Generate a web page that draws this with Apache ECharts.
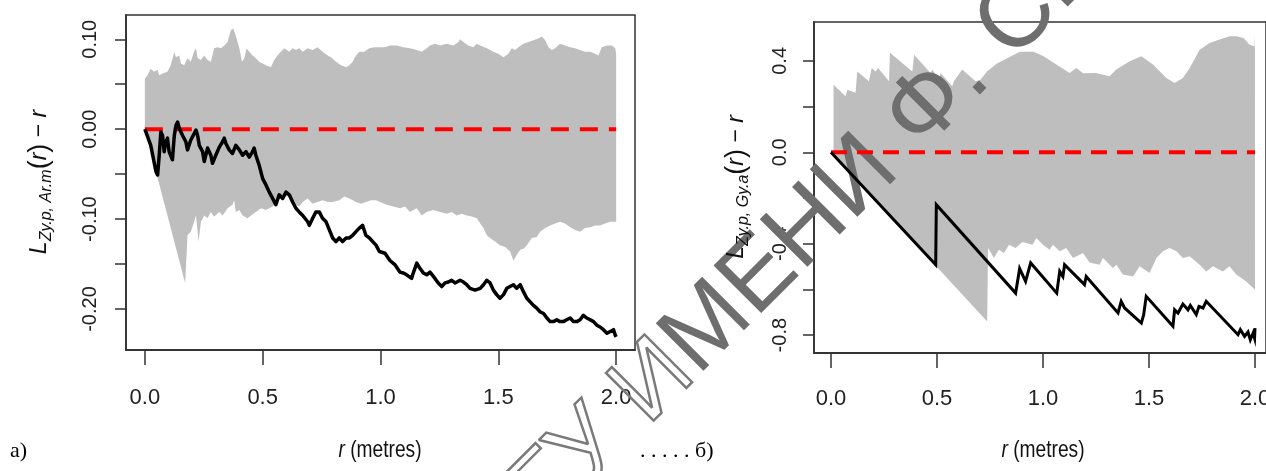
<!DOCTYPE html>
<html><head><meta charset="utf-8">
<script src="https://cdn.jsdelivr.net/npm/echarts@6/dist/echarts.min.js"></script>
<style>html,body{margin:0;padding:0;background:#fff}#c{width:1266px;height:471px}</style>
</head><body><div id="c"></div>
<script>
// ---------- panel a) data ----------
const envAUpper = [[0,0.056],[0.011,0.060],[0.025,0.067],[0.040,0.064],[0.054,0.066],[0.061,0.060],[0.075,0.062],[0.096,0.064],[0.110,0.071],[0.125,0.086],[0.132,0.080],[0.146,0.082],[0.153,0.073],[0.167,0.071],[0.181,0.079],[0.195,0.075],[0.209,0.086],[0.217,0.090],[0.224,0.079],[0.238,0.077],[0.252,0.082],[0.266,0.077],[0.280,0.075],[0.294,0.090],[0.309,0.091],[0.323,0.090],[0.337,0.093],[0.351,0.097],[0.365,0.110],[0.375,0.112],[0.386,0.104],[0.401,0.090],[0.412,0.075],[0.422,0.079],[0.432,0.090],[0.443,0.086],[0.457,0.082],[0.471,0.079],[0.485,0.075],[0.500,0.073],[0.514,0.071],[0.535,0.069],[0.549,0.077],[0.563,0.082],[0.577,0.086],[0.592,0.090],[0.613,0.086],[0.627,0.090],[0.641,0.088],[0.655,0.090],[0.670,0.086],[0.691,0.090],[0.712,0.088],[0.733,0.091],[0.754,0.086],[0.776,0.082],[0.790,0.080],[0.811,0.075],[0.832,0.071],[0.854,0.069],[0.868,0.071],[0.882,0.075],[0.896,0.082],[0.910,0.086],[0.931,0.086],[0.953,0.090],[0.974,0.091],[0.995,0.091],[1.019,0.091],[1.040,0.093],[1.069,0.093],[1.097,0.091],[1.125,0.090],[1.154,0.088],[1.175,0.086],[1.196,0.090],[1.210,0.093],[1.231,0.095],[1.253,0.093],[1.281,0.095],[1.309,0.093],[1.331,0.097],[1.338,0.100],[1.352,0.097],[1.373,0.093],[1.394,0.091],[1.409,0.095],[1.423,0.093],[1.451,0.090],[1.479,0.086],[1.500,0.084],[1.522,0.080],[1.543,0.084],[1.557,0.090],[1.571,0.088],[1.585,0.091],[1.607,0.095],[1.628,0.097],[1.649,0.099],[1.670,0.101],[1.685,0.103],[1.699,0.099],[1.713,0.091],[1.727,0.088],[1.741,0.090],[1.762,0.095],[1.783,0.093],[1.805,0.091],[1.826,0.090],[1.847,0.088],[1.868,0.086],[1.890,0.086],[1.911,0.084],[1.925,0.082],[1.939,0.091],[1.961,0.093],[1.982,0.093],[1.996,0.090],[2.0,0.084]];
const envALower = [[0,0],[0.171,-0.171],[0.177,-0.140],[0.181,-0.118],[0.195,-0.114],[0.209,-0.103],[0.217,-0.096],[0.228,-0.125],[0.238,-0.103],[0.252,-0.096],[0.266,-0.099],[0.280,-0.092],[0.294,-0.097],[0.316,-0.092],[0.330,-0.096],[0.351,-0.088],[0.372,-0.084],[0.379,-0.079],[0.386,-0.092],[0.401,-0.090],[0.415,-0.096],[0.436,-0.099],[0.450,-0.096],[0.471,-0.092],[0.493,-0.088],[0.514,-0.090],[0.542,-0.086],[0.563,-0.081],[0.585,-0.073],[0.606,-0.075],[0.627,-0.081],[0.641,-0.084],[0.655,-0.086],[0.670,-0.081],[0.691,-0.077],[0.712,-0.083],[0.733,-0.081],[0.754,-0.079],[0.776,-0.081],[0.797,-0.081],[0.825,-0.079],[0.846,-0.075],[0.868,-0.077],[0.896,-0.081],[0.917,-0.083],[0.938,-0.081],[0.960,-0.079],[0.981,-0.079],[0.998,-0.081],[1.026,-0.084],[1.055,-0.086],[1.083,-0.088],[1.104,-0.086],[1.125,-0.092],[1.154,-0.088],[1.175,-0.096],[1.196,-0.092],[1.224,-0.090],[1.253,-0.092],[1.281,-0.094],[1.302,-0.092],[1.323,-0.096],[1.345,-0.094],[1.366,-0.096],[1.387,-0.097],[1.409,-0.099],[1.423,-0.105],[1.437,-0.110],[1.451,-0.118],[1.465,-0.121],[1.486,-0.125],[1.507,-0.129],[1.529,-0.131],[1.550,-0.136],[1.564,-0.146],[1.578,-0.140],[1.593,-0.134],[1.607,-0.133],[1.621,-0.129],[1.642,-0.121],[1.663,-0.120],[1.677,-0.114],[1.699,-0.110],[1.720,-0.107],[1.741,-0.105],[1.762,-0.103],[1.783,-0.105],[1.805,-0.109],[1.826,-0.112],[1.847,-0.114],[1.868,-0.110],[1.890,-0.109],[1.911,-0.107],[1.932,-0.107],[1.953,-0.105],[1.975,-0.103],[2.0,-0.103]];
const obsA = [[0,0],[0.025,-0.018],[0.047,-0.047],[0.054,-0.051],[0.061,-0.029],[0.068,-0.003],[0.075,-0.007],[0.082,-0.025],[0.089,-0.014],[0.096,-0.010],[0.103,-0.025],[0.117,-0.034],[0.125,-0.007],[0.132,0.004],[0.139,0.008],[0.146,0.001],[0.153,0.003],[0.160,-0.007],[0.174,-0.014],[0.181,-0.023],[0.195,-0.012],[0.202,-0.010],[0.217,-0.001],[0.224,-0.007],[0.231,-0.018],[0.245,-0.025],[0.252,-0.036],[0.266,-0.021],[0.280,-0.029],[0.287,-0.038],[0.301,-0.029],[0.316,-0.020],[0.330,-0.014],[0.337,-0.010],[0.344,-0.016],[0.358,-0.023],[0.372,-0.027],[0.386,-0.018],[0.401,-0.023],[0.415,-0.029],[0.429,-0.025],[0.443,-0.031],[0.457,-0.025],[0.464,-0.021],[0.471,-0.029],[0.485,-0.040],[0.500,-0.055],[0.514,-0.062],[0.528,-0.070],[0.542,-0.077],[0.556,-0.084],[0.570,-0.073],[0.585,-0.077],[0.599,-0.070],[0.613,-0.073],[0.627,-0.081],[0.641,-0.088],[0.655,-0.092],[0.670,-0.096],[0.691,-0.103],[0.698,-0.107],[0.712,-0.099],[0.726,-0.092],[0.740,-0.092],[0.754,-0.099],[0.769,-0.103],[0.783,-0.112],[0.797,-0.121],[0.811,-0.125],[0.825,-0.121],[0.839,-0.125],[0.854,-0.121],[0.868,-0.121],[0.882,-0.118],[0.896,-0.114],[0.910,-0.110],[0.924,-0.107],[0.938,-0.118],[0.953,-0.121],[0.967,-0.125],[0.981,-0.129],[0.995,-0.136],[1.019,-0.138],[1.040,-0.146],[1.062,-0.151],[1.083,-0.159],[1.097,-0.160],[1.111,-0.162],[1.132,-0.166],[1.139,-0.160],[1.154,-0.149],[1.168,-0.155],[1.182,-0.160],[1.196,-0.162],[1.210,-0.159],[1.217,-0.157],[1.231,-0.166],[1.245,-0.171],[1.260,-0.175],[1.274,-0.171],[1.288,-0.170],[1.302,-0.168],[1.316,-0.171],[1.338,-0.168],[1.352,-0.170],[1.366,-0.173],[1.380,-0.177],[1.401,-0.179],[1.423,-0.177],[1.437,-0.173],[1.451,-0.168],[1.465,-0.171],[1.479,-0.179],[1.493,-0.184],[1.507,-0.188],[1.522,-0.184],[1.536,-0.177],[1.550,-0.175],[1.564,-0.173],[1.578,-0.177],[1.593,-0.173],[1.607,-0.181],[1.621,-0.188],[1.635,-0.192],[1.649,-0.196],[1.663,-0.199],[1.677,-0.203],[1.692,-0.205],[1.706,-0.210],[1.720,-0.214],[1.734,-0.214],[1.748,-0.212],[1.762,-0.214],[1.776,-0.214],[1.790,-0.212],[1.805,-0.210],[1.819,-0.214],[1.833,-0.214],[1.847,-0.212],[1.861,-0.207],[1.875,-0.210],[1.890,-0.212],[1.904,-0.214],[1.918,-0.218],[1.932,-0.220],[1.946,-0.223],[1.961,-0.227],[1.975,-0.225],[1.989,-0.223],[1.996,-0.229],[2.0,-0.231]];

// ---------- panel б) data ----------
const envBUpper = [[0.012,0.296],[0.069,0.245],[0.077,0.274],[0.116,0.260],[0.124,0.354],[0.179,0.311],[0.192,0.369],[0.211,0.354],[0.222,0.369],[0.274,0.311],[0.278,0.435],[0.384,0.354],[0.392,0.427],[0.470,0.347],[0.478,0.362],[0.509,0.318],[0.517,0.347],[0.572,0.289],[0.580,0.311],[0.619,0.362],[0.682,0.311],[0.704,0.316],[0.736,0.353],[0.783,0.389],[0.861,0.426],[0.892,0.440],[0.955,0.440],[1.003,0.420],[1.063,0.384],[1.126,0.347],[1.157,0.369],[1.190,0.346],[1.250,0.347],[1.314,0.333],[1.346,0.362],[1.409,0.398],[1.464,0.420],[1.519,0.384],[1.582,0.325],[1.621,0.303],[1.660,0.325],[1.692,0.369],[1.739,0.449],[1.786,0.478],[1.833,0.493],[1.880,0.508],[1.912,0.508],[1.946,0.500],[1.975,0.471],[1.998,0.464],[2.0,0.515]];
const envBLower = [[0.012,-0.012],[0.737,-0.740],[0.741,-0.419],[0.769,-0.462],[0.792,-0.426],[0.816,-0.441],[0.840,-0.404],[0.871,-0.419],[0.903,-0.392],[0.950,-0.404],[0.969,-0.375],[1.0,-0.404],[1.031,-0.426],[1.047,-0.404],[1.079,-0.433],[1.110,-0.419],[1.142,-0.462],[1.189,-0.441],[1.220,-0.482],[1.267,-0.492],[1.283,-0.462],[1.330,-0.506],[1.346,-0.492],[1.377,-0.535],[1.425,-0.543],[1.456,-0.499],[1.503,-0.528],[1.535,-0.462],[1.566,-0.433],[1.597,-0.419],[1.629,-0.433],[1.660,-0.462],[1.692,-0.455],[1.739,-0.492],[1.770,-0.521],[1.802,-0.499],[1.849,-0.521],[1.880,-0.499],[1.912,-0.535],[1.959,-0.565],[2.0,-0.601]];
const obsB = [[0,0],[0.494,-0.492],[0.497,-0.229],[0.871,-0.616],[0.890,-0.509],[0.918,-0.565],[0.942,-0.484],[1.065,-0.616],[1.079,-0.521],[1.094,-0.543],[1.102,-0.492],[1.196,-0.579],[1.204,-0.543],[1.354,-0.703],[1.369,-0.652],[1.385,-0.681],[1.464,-0.747],[1.475,-0.710],[1.487,-0.630],[1.613,-0.761],[1.621,-0.689],[1.637,-0.703],[1.660,-0.664],[1.684,-0.689],[1.695,-0.670],[1.723,-0.710],[1.736,-0.674],[1.755,-0.681],[1.770,-0.652],[1.920,-0.798],[1.931,-0.776],[1.951,-0.805],[1.967,-0.786],[1.978,-0.820],[1.991,-0.791],[1.998,-0.813],[2.0,-0.769]];

const refLine = [[0,0],[2,0]];
const xTicks = [0,0.5,1,1.5,2];
const yTicksA = [-0.2,-0.15,-0.1,-0.05,0,0.05,0.1];
const yLabelsA = [-0.2,-0.1,0,0.1];
const yTicksB = [-0.8,-0.6,-0.4,-0.2,0,0.2,0.4];
const yLabelsB = [-0.8,-0.4,0,0.4];
const watermarkOutlined = 'ГГУ И';
const watermarkFilled = 'МЕНИ Ф. СКОРИНЫ';

// pick installed fonts
function hasFont(f){
  const c = document.createElement('canvas').getContext('2d');
  const s = 'mmm 0.0 metres WwIl';
  c.font = '40px monospace'; const a = c.measureText(s).width;
  c.font = '40px "' + f + '", monospace'; const b = c.measureText(s).width;
  return Math.abs(a - b) > 0.5;
}
function pick(list){ for (const f of list) if (hasFont(f)) return f; return 'sans-serif'; }
const SANS = pick(['Liberation Sans','Arimo','DejaVu Sans']);
const SERIF = pick(['Liberation Serif','DejaVu Serif']);

function envelope(upper, lower, gi){
  return {type:'custom', xAxisIndex:gi, yAxisIndex:gi, z:1, silent:true, clip:true,
    data:[upper[0]],
    renderItem:function(params, api){
      const pts = upper.map(p=>api.coord(p)).concat(lower.slice().reverse().map(p=>api.coord(p)));
      return {type:'polygon', shape:{points:pts}, style:{fill:'#bebebe', stroke:null}};
    }};
}
function xAx(gi, margin, xmax){
  return {type:'value', gridIndex:gi, min:-0.08, max:xmax,
    axisLine:{show:true,onZero:false,lineStyle:{color:'#333',width:1.8}},
    axisTick:{show:true,length:15,customValues:xTicks,lineStyle:{color:'#333',width:1.5}},
    axisLabel:{customValues:xTicks, formatter:v=>v.toFixed(1), margin:margin,
      fontFamily:SANS, fontSize:22, color:'#222'},
    splitLine:{show:false}};
}
function yAx(gi,min,max,ticks,labels,dec,margin){
  return {type:'value', gridIndex:gi, min:min, max:max,
    axisLine:{show:true,onZero:false,lineStyle:{color:'#333',width:1.8}},
    axisTick:{show:true,length:11,customValues:ticks,lineStyle:{color:'#333',width:1.5}},
    axisLabel:{customValues:labels, formatter:v=>v.toFixed(dec), rotate:90, margin:margin,
      fontFamily:SANS, fontSize:20, color:'#222'},
    splitLine:{show:false}};
}
function ytitle(x,y,sub){
  return {type:'text', x:x, y:y, rotation:Math.PI/2, z:10,
    style:{text:'{L|L}{s|'+sub+'}{p|(}{r|r}{p|)}{m| − }{r|r}', align:'center', verticalAlign:'middle',
      textAlign:'center', textVerticalAlign:'middle',
      rich:{
        L:{fontFamily:SANS,fontStyle:'italic',fontSize:23,fill:'#111',lineHeight:30,verticalAlign:'middle'},
        s:{fontFamily:SANS,fontStyle:'italic',fontSize:16,fill:'#111',lineHeight:30,verticalAlign:'bottom'},
        p:{fontFamily:SANS,fontSize:27,fill:'#111',lineHeight:30,verticalAlign:'middle'},
        r:{fontFamily:SANS,fontStyle:'italic',fontSize:23,fill:'#111',lineHeight:30,verticalAlign:'middle'},
        m:{fontFamily:SANS,fontSize:23,fill:'#111',lineHeight:30,verticalAlign:'middle'}
      }}};
}
function xtitle(x,y){
  return {type:'text', x:x, y:y, z:10, scaleX:0.8, scaleY:1,
    style:{text:'{i|r}{n| (metres)}', align:'center', verticalAlign:'middle', textAlign:'center', textVerticalAlign:'middle',
      rich:{i:{fontFamily:SANS,fontStyle:'italic',fontSize:24,fill:'#111'},
            n:{fontFamily:SANS,fontSize:24,fill:'#111'}}}};
}

// watermark placement (anchor so that "Ф" lands where it is in the scan)
const WFS = 98, C45 = Math.SQRT1_2;
const WFONT = WFS + 'px "' + SANS + '"';
const mctx = document.createElement('canvas').getContext('2d');
mctx.font = WFONT;
const wd = mctx.measureText('ГГУ ИМЕНИ ').width + mctx.measureText('Ф').width/2;
const wx = 928 - wd*C45, wy = 108 + wd*C45;
const w0 = mctx.measureText(watermarkOutlined).width;
const wx2 = wx + w0*C45, wy2 = wy - w0*C45;

const chart = echarts.init(document.getElementById('c'), null, {renderer:'canvas'});
chart.setOption({
  animation:false,
  backgroundColor:'#fff',
  grid:[
    {left:126, top:15, width:509, height:335, show:true, borderColor:'#333', borderWidth:1.5, backgroundColor:'transparent', outerBoundsMode:'none', containLabel:false},
    {left:814, top:22, width:452, height:331, show:true, borderColor:'#333', borderWidth:1.5, backgroundColor:'transparent', outerBoundsMode:'none', containLabel:false}
  ],
  xAxis:[xAx(0,37,2.08), xAx(1,35,2.052)],
  yAxis:[yAx(0,-0.2456,0.127,yTicksA,yLabelsA,2,26), yAx(1,-0.878,0.570,yTicksB,yLabelsB,1,24)],
  series:[
    envelope(envAUpper, envALower, 0),
    {type:'line', xAxisIndex:0, yAxisIndex:0, data:refLine, showSymbol:false, z:3,
      lineStyle:{color:'#ff0000', width:4, type:[18,11]}},
    {type:'line', xAxisIndex:0, yAxisIndex:0, data:obsA, showSymbol:false, z:4,
      lineStyle:{color:'#000', width:3.5, join:'round'}},
    envelope(envBUpper, envBLower, 1),
    {type:'line', xAxisIndex:1, yAxisIndex:1, data:refLine, showSymbol:false, z:3,
      lineStyle:{color:'#ff0000', width:4, type:[16,10]}},
    {type:'line', xAxisIndex:1, yAxisIndex:1, data:obsB, showSymbol:false, z:4,
      lineStyle:{color:'#000', width:3, join:'miter'}}
  ],
  graphic:{elements:[
    ytitle(40,182,'Zy.p, Ar.m'),
    ytitle(737,187,'Zy.p, Gy.a'),
    xtitle(380,450),
    xtitle(1043,450),
    {type:'text', x:10, y:451, z:10, style:{text:'а)', font:'22px "'+SERIF+'"', fill:'#000', align:'left', verticalAlign:'middle', textAlign:'left', textVerticalAlign:'middle'}},
    {type:'text', x:640, y:451, z:10, style:{text:'. . . . . б)', font:'22px "'+SERIF+'"', fill:'#000', align:'left', verticalAlign:'middle', textAlign:'left', textVerticalAlign:'middle'}},
    {type:'text', x:wx, y:wy, rotation:Math.PI/4, z:2, silent:true,
      style:{text:watermarkOutlined, font:WFONT, fill:'rgba(255,255,255,0)', stroke:'#7a7a7a', lineWidth:2.5,
        align:'left', verticalAlign:'middle', textAlign:'left', textVerticalAlign:'middle'}},
    {type:'text', x:wx2, y:wy2, rotation:Math.PI/4, z:2, silent:true,
      style:{text:watermarkFilled, font:WFONT, fill:'#6e6e6e',
        align:'left', verticalAlign:'middle', textAlign:'left', textVerticalAlign:'middle'}}
  ]}
});
</script></body></html>
